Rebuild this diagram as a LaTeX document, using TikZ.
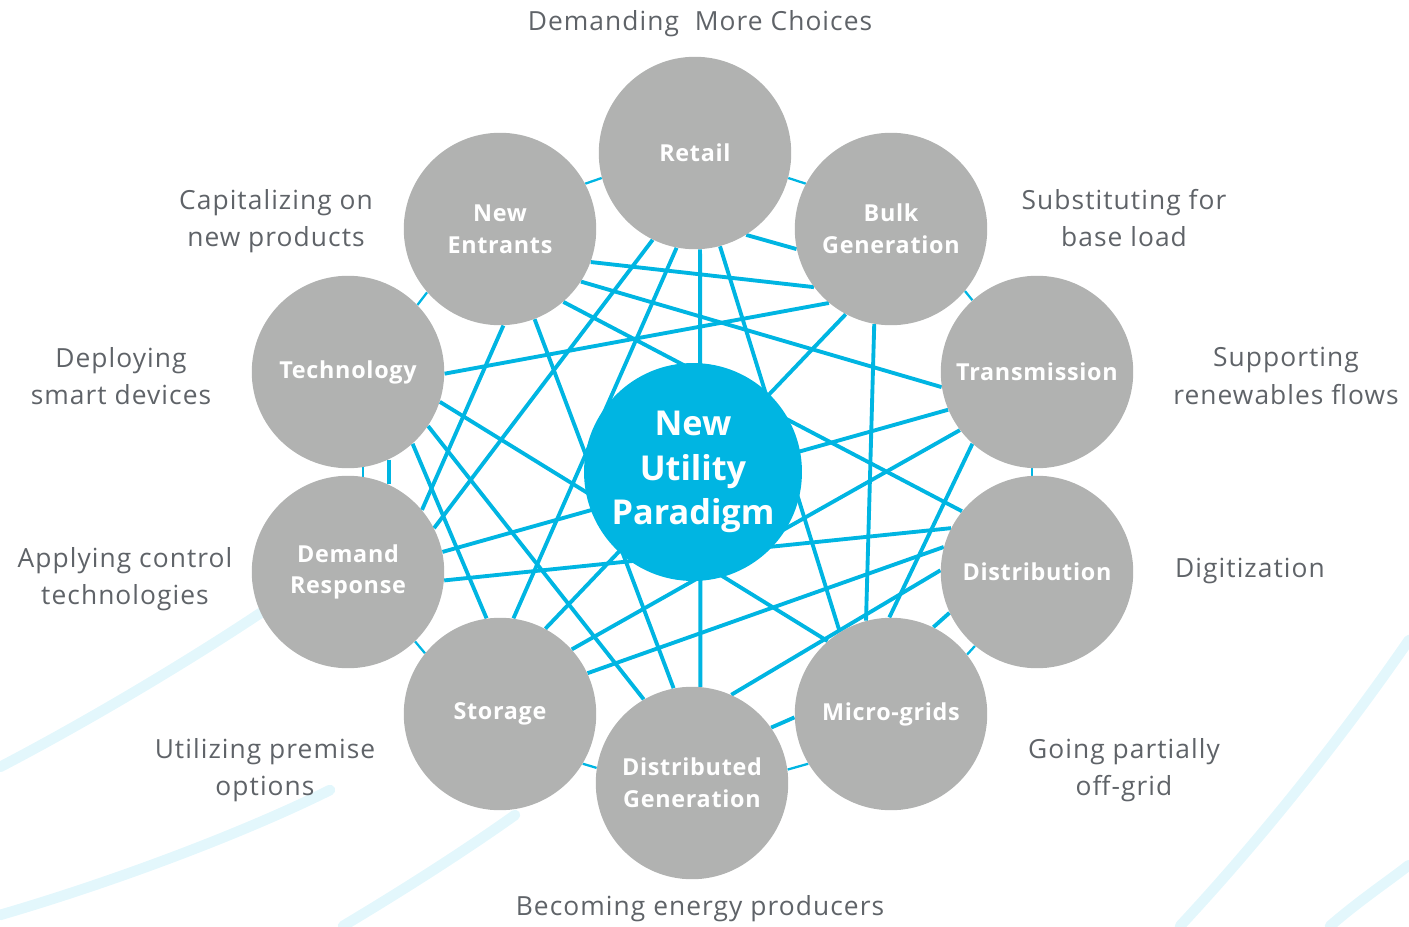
\documentclass[tikz,border=0pt]{standalone}
\usepackage{fontspec}
\setmainfont{Open Sans}[LetterSpace=4.0]
\newfontfamily\disctype{Open Sans}[LetterSpace=3.0]
\newfontfamily\hubtype{Open Sans}

\definecolor{geblue}{RGB}{0,181,226}
\definecolor{disc}{RGB}{177,178,177}
\definecolor{caption}{RGB}{95,99,104}
\pgfdeclarelayer{swirl}
\pgfdeclarelayer{links}
\pgfsetlayers{swirl,links,main}

\begin{document}
\begin{tikzpicture}[x=0.02cm,y=-0.02cm]

\tikzstyle{area}=[circle,fill=disc,text=white,inner sep=0pt,align=center,
  minimum size=3.85cm,font=\disctype\bfseries\fontsize{13.3}{18.1}\selectfont]
\tikzstyle{hub}=[circle,fill=geblue,text=white,inner sep=0pt,align=center,
  minimum size=4.36cm,font=\hubtype\bfseries\fontsize{19.5}{25.5}\selectfont]
\tikzstyle{trend}=[text=caption,align=center,font=\fontsize{15}{21.3}\selectfont]
\tikzstyle{link}=[draw=geblue,line width=2.2pt]
\tikzstyle{ring}=[draw=geblue,line width=1.3pt]
\tikzstyle{haze}=[draw=geblue!11,line width=6pt,line cap=round]

\useasboundingbox (0,0) rectangle (1409,926);

%circles
\node [area] (retail) at (695,153) {Retail};
\node [area] (bulk) at (891,229) {Bulk\\Generation};
\node [area] (trans) at (1037,372) {Transmission};
\node [area] (distr) at (1037,572) {Distribution};
\node [area] (micro) at (891,714) {Micro-grids};
\node [area] (dgen) at (692,783) {Distributed\\Generation};
\node [area] (stor) at (500,714) {Storage};
\node [area] (demand) at (348,572) {Demand\\Response};
\node [area] (tech) at (348,372) {Technology};
\node [area] (entr) at (500,229) {New\\Entrants};
\node [hub] (hub) at (693,472) {New\\Utility\\Paradigm};

%trends
\node [trend] (choices) at (700,24) {Demanding\ \ More Choices};
\node [trend] (products) at (276,221) {Capitalizing on\\new products};
\node [trend] (baseload) at (1124,218) {Substituting for\\base load};
\node [trend] (flows) at (1286,376) {Supporting\\renewables flows};
\node [trend] (digit) at (1250,571) {Digitization};
\node [trend] (offgrid) at (1124,770) {Going partially\\off-grid};
\node [trend] (producers) at (700,909) {Becoming energy producers};
\node [trend] (premise) at (265,770) {Utilizing premise\\options};
\node [trend] (control) at (125,579) {Applying control\\technologies};
\node [trend] (devices) at (121,376) {Deploying\\smart devices};

\begin{pgfonlayer}{swirl}
\draw [haze] (0,767) .. controls (90,720) and (190,660) .. (262,612);
\draw [haze] (0,915) .. controls (120,880) and (250,830) .. (330,790);
\draw [haze] (343,926) .. controls (420,880) and (480,840) .. (515,815);
\draw [haze] (1180,926) .. controls (1260,840) and (1340,740) .. (1409,640);
\draw [haze] (1330,926) .. controls (1360,900) and (1390,880) .. (1409,865);
\end{pgfonlayer}

\begin{pgfonlayer}{links}
%ring
\path [ring] (entr.28) edge (retail.195)
  (retail.-15) edge (bulk.152)
  (bulk.-40) edge (trans.132)
  (trans.-93) edge (distr.93)
  (distr.-130) edge (micro.38)
  (micro.-149) edge (dgen.8)
  (dgen.171) edge (stor.-31)
  (stor.141) edge (demand.-46)
  (demand.81) edge (tech.-81)
  (tech.44) edge (entr.-139);

%cross links
\path [link] (entr.-20) edge (bulk.217)
  (entr.-33) edge (trans.189)
  (entr.-49) edge (distr.141)
  (entr.-69) edge (dgen.101)
  (entr.-88) edge (demand.40)
  (tech.-1) edge (bulk.-130)
  (tech.-18) edge (micro.131)
  (tech.-34) edge (dgen.120)
  (tech.-48) edge (stor.98)
  (tech.-65) edge (demand.65)
  (retail.-116) edge (demand.27)
  (retail.-101) edge (stor.82)
  (retail.-87) edge (dgen.85)
  (retail.-75) edge (micro.122)
  (retail.-58) edge (bulk.192)
  (bulk.-118) edge (stor.62)
  (bulk.-100) edge (micro.105)
  (demand.12) edge (trans.203)
  (trans.217) edge (stor.42)
  (trans.228) edge (micro.91)
  (distr.153) edge (demand.-5)
  (distr.165) edge (stor.25)
  (distr.179) edge (dgen.66)
  (distr.205) edge (micro.64)
  (dgen.35) edge (micro.182);
\end{pgfonlayer}

\end{tikzpicture}
\end{document}
